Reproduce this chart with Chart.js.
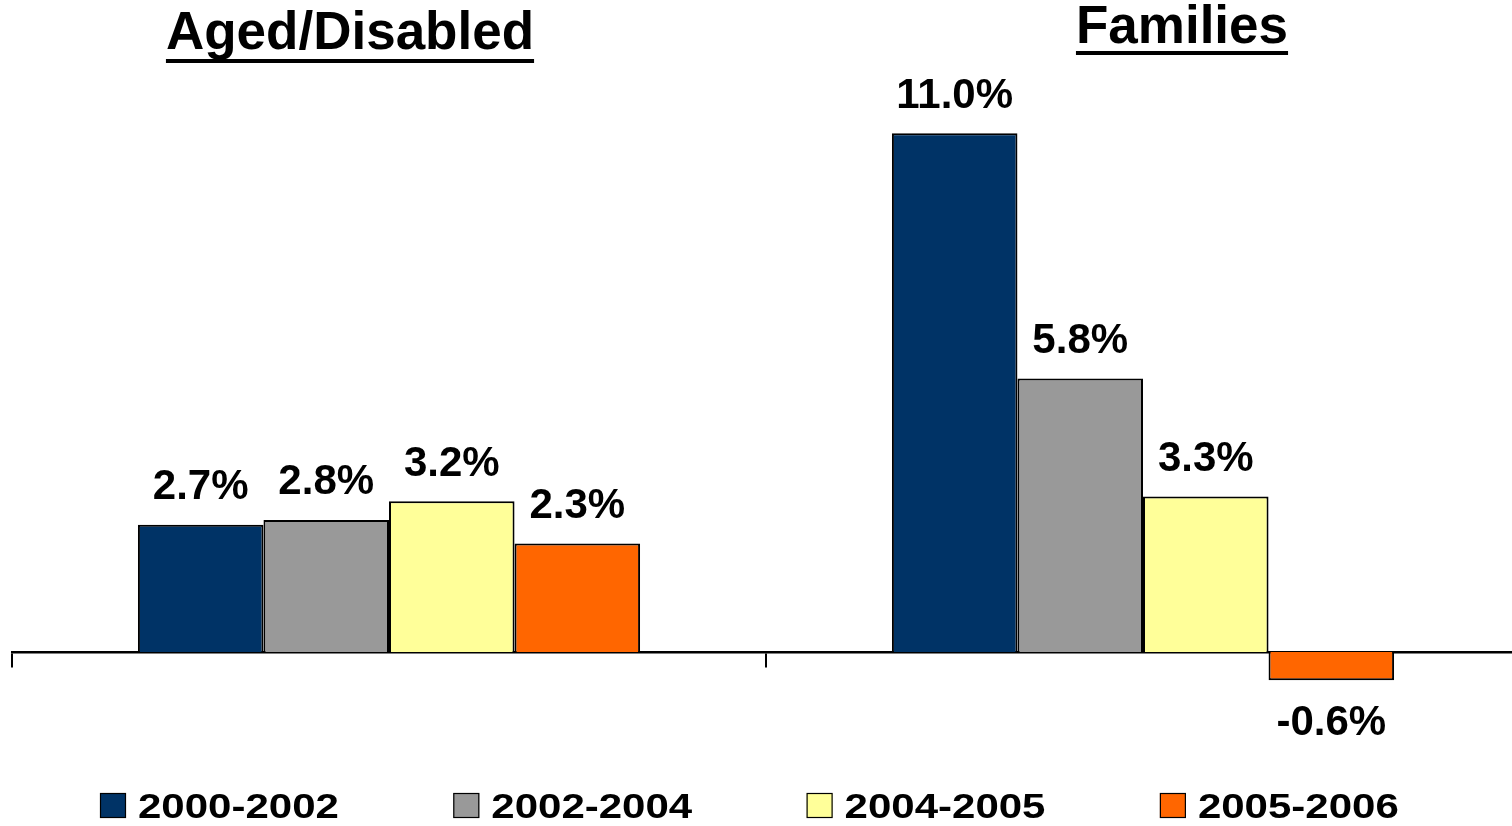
<!DOCTYPE html>
<html>
<head>
<meta charset="utf-8">
<script src="https://cdn.jsdelivr.net/npm/chart.js@4/dist/chart.umd.min.js"></script>
<style>
  html, body { margin: 0; padding: 0; background: #ffffff; overflow: hidden; }
  #wrap { width: 1512px; height: 826px; overflow: hidden; position: relative; }
  canvas { display: block; }
</style>
</head>
<body>
<div id="wrap"><canvas id="chart" width="1530" height="826"></canvas></div>
<script>
// Category groups and period series (percent change)
const categories = ['Aged/Disabled', 'Families'];
const periods = ['2000-2002', '2002-2004', '2004-2005', '2005-2006'];
const values2000_2002 = [2.7, 11.0];
const values2002_2004 = [2.8, 5.8];
const values2004_2005 = [3.2, 3.3];
const values2005_2006 = [2.3, -0.6];
const periodColors = ['#003366', '#999999', '#FFFF99', '#FF6600'];

const FONT = '"Liberation Sans", Arial, Helvetica, sans-serif';

// Group titles, bold and underlined, above each category
const groupTitles = {
  id: 'groupTitles',
  afterDraw(chart) {
    const ctx = chart.ctx;
    const xs = chart.scales.x;
    const shifts = [-39, 39];
    const baselines = [49, 43];
    const underlineY = [59, 51];
    ctx.save();
    ctx.font = 'bold 53px ' + FONT;
    ctx.fillStyle = '#000000';
    ctx.textAlign = 'center';
    ctx.textBaseline = 'alphabetic';
    categories.forEach((name, i) => {
      const cx = xs.getPixelForValue(i) + shifts[i];
      ctx.fillText(name, cx, baselines[i]);
      const w = ctx.measureText(name).width;
      ctx.fillRect(cx - w / 2, underlineY[i], w, 4);
    });
    ctx.restore();
  }
};

// Value labels above positive bars and below negative ones
const valueLabels = {
  id: 'valueLabels',
  afterDatasetsDraw(chart) {
    const ctx = chart.ctx;
    ctx.save();
    ctx.font = 'bold 42px ' + FONT;
    ctx.fillStyle = '#000000';
    ctx.textAlign = 'center';
    ctx.textBaseline = 'alphabetic';
    chart.data.datasets.forEach((ds, di) => {
      const meta = chart.getDatasetMeta(di);
      meta.data.forEach((bar, j) => {
        const v = ds.data[j];
        const text = v.toFixed(1) + '%';
        if (v >= 0) {
          ctx.fillText(text, bar.x, bar.y - 25.5);
        } else {
          ctx.fillText(text, bar.x, bar.y + 55);
        }
      });
    });
    ctx.restore();
  }
};

// Legend row along the bottom
const bottomLegend = {
  id: 'bottomLegend',
  afterDraw(chart) {
    const ctx = chart.ctx;
    ctx.save();
    chart.data.datasets.forEach((ds, i) => {
      const bx = 100 + i * 353.3;
      ctx.fillStyle = ds.backgroundColor;
      ctx.fillRect(bx, 793, 26, 25);
      ctx.strokeStyle = '#000000';
      ctx.lineWidth = 1.2;
      ctx.strokeRect(bx + 0.5, 793.5, 25, 24);
      ctx.save();
      ctx.translate(bx + 38, 817.5);
      ctx.scale(1.2, 1);
      ctx.font = 'bold 35px ' + FONT;
      ctx.fillStyle = '#000000';
      ctx.textAlign = 'left';
      ctx.textBaseline = 'alphabetic';
      ctx.fillText(ds.label, 0, 0);
      ctx.restore();
    });
    ctx.restore();
  }
};

const seriesValues = [values2000_2002, values2002_2004, values2004_2005, values2005_2006];

new Chart(document.getElementById('chart'), {
  type: 'bar',
  data: {
    labels: categories,
    datasets: periods.map((p, i) => ({
      label: p,
      data: seriesValues[i],
      backgroundColor: periodColors[i],
      borderColor: '#000000',
      borderWidth: 2,
      categoryPercentage: 0.666,
      barPercentage: 1.0
    }))
  },
  options: {
    responsive: false,
    devicePixelRatio: 1,
    animation: false,
    layout: { padding: { left: 12, right: 10, top: 86.2, bottom: 56.1 } },
    plugins: {
      legend: { display: false },
      tooltip: { enabled: false },
      title: { display: false }
    },
    scales: {
      x: {
        position: { y: 0 },
        afterFit(scale) { scale.height = 0; },
        ticks: { display: false },
        grid: {
          offset: true,
          drawOnChartArea: false,
          drawTicks: true,
          tickLength: 14,
          color: '#000000',
          lineWidth: 2
        },
        border: { display: true, color: '#000000', width: 2.5 }
      },
      y: {
        display: false,
        min: -2.5,
        max: 12
      }
    }
  },
  plugins: [groupTitles, valueLabels, bottomLegend]
});
</script>
</body>
</html>
